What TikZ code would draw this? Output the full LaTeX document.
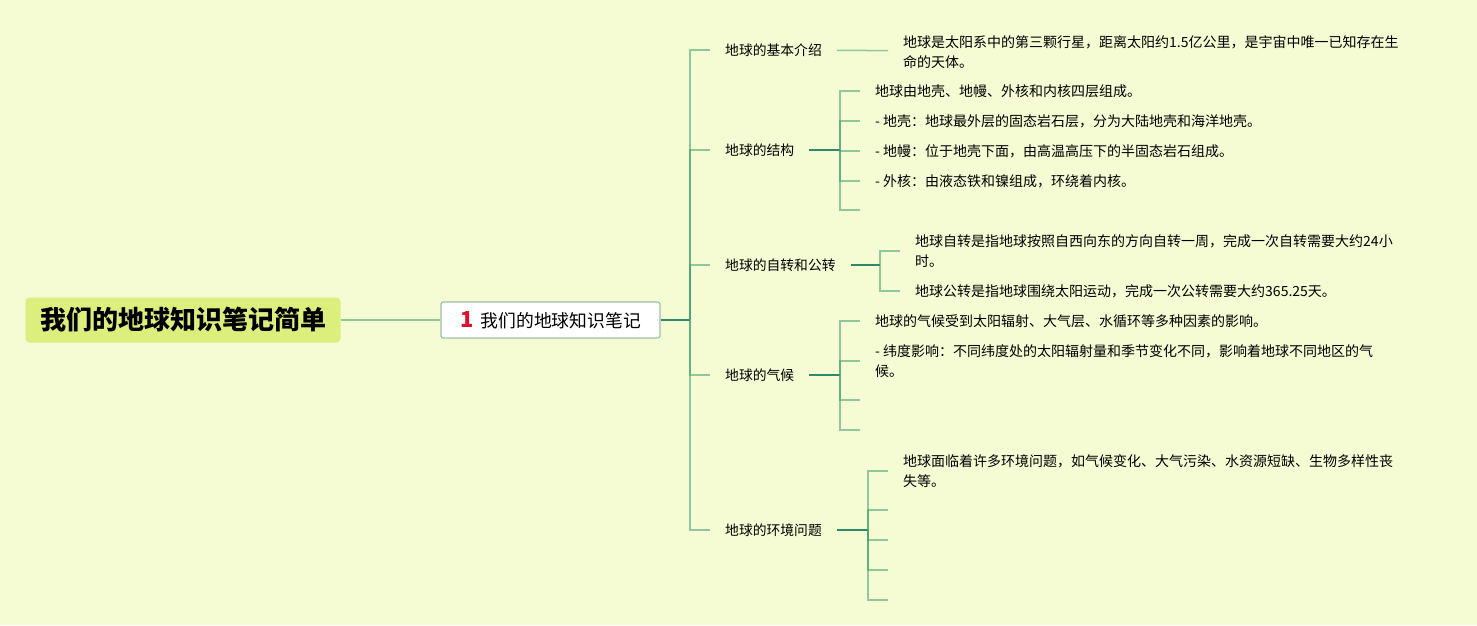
\documentclass[tikz,border=0pt]{standalone}
\usepackage{fontspec}
\setmainfont{Noto Sans CJK SC}
\usetikzlibrary{positioning}
\usepackage{xcolor}

\definecolor{bgcol}{HTML}{F5FBD3}
\definecolor{titlecol}{HTML}{DCEF7C}
\definecolor{boxline}{HTML}{9DBFAE}
\definecolor{darkline}{HTML}{2E8B6A}
\definecolor{lightline}{HTML}{3E9E70}
\definecolor{numred}{HTML}{E0102C}

\begin{document}
\begin{tikzpicture}[x=1pt,y=-1pt]
\tikzstyle{topic}=[rectangle, fill=titlecol, rounded corners=4pt, minimum width=315pt, minimum height=45pt, font=\bfseries\fontsize{26}{26}\selectfont]
\tikzstyle{central}=[rectangle, draw=boxline, fill=white, line width=1.2pt, rounded corners=2pt, minimum width=219pt, minimum height=36pt, inner sep=0pt, font=\fontsize{17.8}{18}\selectfont]
\tikzstyle{branch}=[anchor=west, inner xsep=15pt, inner ysep=3pt, font=\fontsize{13.8}{19.5}\selectfont]
\tikzstyle{leaf}=[anchor=west, inner xsep=15pt, inner ysep=3pt, align=left, font=\fontsize{14}{19.5}\selectfont]
\tikzstyle{thick link}=[draw=darkline, line width=2.2pt]
\tikzstyle{thin link}=[draw=lightline, line width=1.5pt, draw opacity=0.55]
\useasboundingbox (0,0) rectangle (1477,625);
\fill[bgcol] (0,0) rectangle (1477,625);
% root and central topic
\node[topic] (earth) at (183,320) {我们的地球知识笔记简单};
\node[central] (notes) at (550.5,320) {{\color{numred}\bfseries\fontsize{22}{22}\selectfont 1}\hspace{7pt}我们的地球知识笔记};
\coordinate (hub) at (690,320);
% main branches
\node[branch] (intro) at (710,50) {地球的基本介绍};
\node[branch] (struct) at (710,150) {地球的结构};
\node[branch] (spin) at (710,265) {地球的自转和公转};
\node[branch] (climate) at (710,375) {地球的气候};
\node[branch] (env) at (710,530) {地球的环境问题};
% junctions
\coordinate (jstruct) at (840,150);
\coordinate (jspin) at (880,265);
\coordinate (jclimate) at (840,375);
\coordinate (jenv) at (868,530);
% leaves
\node[leaf] (intro1) at (888,52) {地球是太阳系中的第三颗行星，距离太阳约1.5亿公里，是宇宙中唯一已知存在生\\命的天体。};
\node[leaf] (struct1) at (860,91) {地球由地壳、地幔、外核和内核四层组成。};
\node[leaf] (struct2) at (860,121) {- 地壳：地球最外层的固态岩石层，分为大陆地壳和海洋地壳。};
\node[leaf] (struct3) at (860,151) {- 地幔：位于地壳下面，由高温高压下的半固态岩石组成。};
\node[leaf] (struct4) at (860,181) {- 外核：由液态铁和镍组成，环绕着内核。};
\coordinate (struct5) at (860,210);
\node[leaf] (spin1) at (900,251) {地球自转是指地球按照自西向东的方向自转一周，完成一次自转需要大约24小\\时。};
\node[leaf] (spin2) at (900,291) {地球公转是指地球围绕太阳运动，完成一次公转需要大约365.25天。};
\node[leaf] (climate1) at (860,321) {地球的气候受到太阳辐射、大气层、水循环等多种因素的影响。};
\node[leaf] (climate2) at (860,361) {- 纬度影响：不同纬度处的太阳辐射量和季节变化不同，影响着地球不同地区的气\\候。};
\coordinate (climate3) at (860,400);
\coordinate (climate4) at (860,430);
\node[leaf] (env1) at (888,471) {地球面临着许多环境问题，如气候变化、大气污染、水资源短缺、生物多样性丧\\失等。};
\coordinate (env2) at (888,510);
\coordinate (env3) at (888,540);
\coordinate (env4) at (888,570);
\coordinate (env5) at (888,600);
% connectors
\draw[thin link, draw opacity=1, draw=lightline!55!bgcol] (earth) -- (notes);
\draw[thick link] (notes) -- (hub);
\foreach \j in {intro,struct,spin,climate,env}{\draw[thin link] (hub) |- (\j);}
\draw[thin link] (intro) -- (intro1);
\foreach \i/\j in {struct/jstruct,spin/jspin,climate/jclimate,env/jenv}{\draw[thick link] (\i) -- (\j);}
\foreach \i/\j in {jstruct/struct1,jstruct/struct2,jstruct/struct3,jstruct/struct4,jstruct/struct5,jspin/spin1,jspin/spin2,jclimate/climate1,jclimate/climate2,jclimate/climate3,jclimate/climate4,jenv/env1,jenv/env2,jenv/env3,jenv/env4,jenv/env5}{\draw[thin link] (\i) |- (\j);}
\end{tikzpicture}
\end{document}
